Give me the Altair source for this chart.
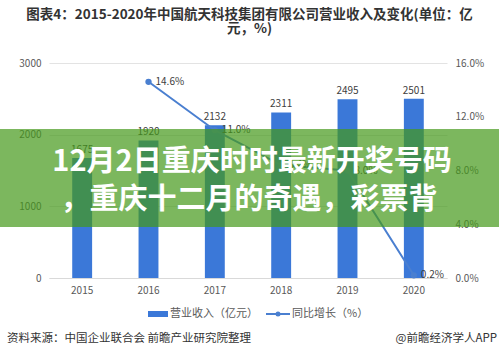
import altair as alt
import pandas as pd

years = ["2015", "2016", "2017", "2018", "2019", "2020"]
revenue = [1675, 1920, 2132, 2311, 2495, 2501]
growth_years = ["2016", "2017", "2018", "2019", "2020"]
growth = [14.6, 11.0, 8.4, 8.0, 0.2]

title_lines = ["图表4：2015-2020年中国航天科技集团有限公司营业收入及变化(单位：亿", "元，%)"]
banner_lines = ["12月2日重庆时时最新开奖号码", "，重庆十二月的奇遇，彩票背"]
legend_labels = ["营业收入（亿元）", "同比增长（%）"]
source_text = "资料来源：中国企业联合会 前瞻产业研究院整理"
brand_text = "@前瞻经济学人APP"

FONT = "Noto Sans CJK SC"
BLUE = "#3b78d8"
LINE = "#4a7fd0"
W, H = 398, 215

bars_df = pd.DataFrame({"year": years, "revenue": revenue})
line_df = pd.DataFrame({"year": growth_years, "growth": growth})
line_df["label"] = [f"{v:.1f}%" for v in growth]
one = pd.DataFrame({"a": [0]})

xenc = alt.X("year:N", sort=years, scale=alt.Scale(domain=years, paddingInner=0.7, paddingOuter=0.35),
             axis=alt.Axis(title=None, labelAngle=0, ticks=False, domain=True, domainColor="#d9d9d9",
                           labelFont=FONT, labelFontSize=10, labelColor="#595959", labelPadding=7))

bars = alt.Chart(bars_df).mark_bar(color=BLUE).encode(
    x=xenc,
    y=alt.Y("revenue:Q", scale=alt.Scale(domain=[0, 3000], nice=False),
            axis=alt.Axis(title=None, values=[0, 500, 1000, 1500, 2000, 2500, 3000], ticks=False, domain=False,
                          format="d", gridColor="#e3e3e3", labelFont=FONT, labelFontSize=10,
                          labelColor="#595959", labelPadding=8))
)
bar_text = alt.Chart(bars_df).mark_text(dy=-8, font=FONT, fontSize=10, color="#404040").encode(
    x=alt.X("year:N", sort=years), y=alt.Y("revenue:Q"), text=alt.Text("revenue:Q", format="d"))
left = alt.layer(bars, bar_text)

yright = alt.Y("growth:Q", scale=alt.Scale(domain=[0, 16], nice=False),
               axis=alt.Axis(title=None, orient="right", values=[0, 2, 4, 6, 8, 10, 12, 14, 16], ticks=False,
                             domain=False, grid=False, labelExpr="format(datum.value, '.1f') + '%'",
                             labelFont=FONT, labelFontSize=10, labelColor="#595959", labelPadding=8))
line = alt.Chart(line_df).mark_line(color=LINE, strokeWidth=2).encode(x=alt.X("year:N", sort=years), y=yright)
pts = alt.Chart(line_df).mark_point(filled=True, color=LINE, size=40, opacity=1).encode(
    x=alt.X("year:N", sort=years), y=alt.Y("growth:Q"))
line_text = alt.Chart(line_df).mark_text(align="left", dx=7, font=FONT, fontSize=10, color="#404040").encode(
    x=alt.X("year:N", sort=years), y=alt.Y("growth:Q"), text="label:N")
right = alt.layer(line, pts, line_text)

main = alt.layer(left, right).resolve_scale(y="independent")

deco = []
deco.append(alt.Chart(one).mark_text(font=FONT, fontSize=13.5, fontWeight="bold", color="#333333",
                                     text=title_lines[0], align="center", baseline="middle")
            .encode(x=alt.value(200.5), y=alt.value(15 - 63)))
deco.append(alt.Chart(one).mark_text(font=FONT, fontSize=13.5, fontWeight="bold", color="#333333",
                                     text=title_lines[1], align="center", baseline="middle")
            .encode(x=alt.value(200.5), y=alt.value(29 - 63)))
# legend
deco.append(alt.Chart(one).mark_rect(color=BLUE).encode(
    x=alt.value(99), x2=alt.value(119), y=alt.value(248), y2=alt.value(254)))
deco.append(alt.Chart(one).mark_text(font=FONT, fontSize=11, color="#595959", text=legend_labels[0],
                                     align="left", baseline="middle").encode(x=alt.value(121), y=alt.value(251)))
deco.append(alt.Chart(one).mark_rule(color=LINE, strokeWidth=2).encode(
    x=alt.value(217), x2=alt.value(241), y=alt.value(251)))
deco.append(alt.Chart(one).mark_point(filled=True, color=LINE, size=25, opacity=1).encode(
    x=alt.value(229), y=alt.value(251)))
deco.append(alt.Chart(one).mark_text(font=FONT, fontSize=11, color="#595959", text=legend_labels[1],
                                     align="left", baseline="middle").encode(x=alt.value(243), y=alt.value(251)))
# source
deco.append(alt.Chart(one).mark_text(font=FONT, fontSize=11.5, color="#333333", text=source_text,
                                     align="left", baseline="middle").encode(x=alt.value(-42), y=alt.value(276)))
deco.append(alt.Chart(one).mark_text(font=FONT, fontSize=11.5, color="#333333", text=brand_text,
                                     align="right", baseline="middle").encode(x=alt.value(448), y=alt.value(276)))
# banner
deco.append(alt.Chart(one).mark_rect(color="#44991a", opacity=0.7).encode(
    x=alt.value(-49), x2=alt.value(450), y=alt.value(129 - 63), y2=alt.value(227 - 63)))
deco.append(alt.Chart(one).mark_text(font=FONT, fontSize=29, fontWeight="bold", color="white",
                                     text=banner_lines[0], align="center", baseline="middle")
            .encode(x=alt.value(203), y=alt.value(162 - 63)))
deco.append(alt.Chart(one).mark_text(font=FONT, fontSize=29, fontWeight="bold", color="white",
                                     text=banner_lines[1], align="center", baseline="middle")
            .encode(x=alt.value(200), y=alt.value(200 - 63)))

chart = alt.layer(main, *deco).properties(
    width=W, height=H,
    autosize=alt.AutoSizeParams(type="none"),
    padding={"left": 49, "top": 63, "right": 52, "bottom": 79},
    background="white",
).configure_view(stroke=None)

chart.save("out.html", embed_options={"renderer": "svg", "actions": False})
